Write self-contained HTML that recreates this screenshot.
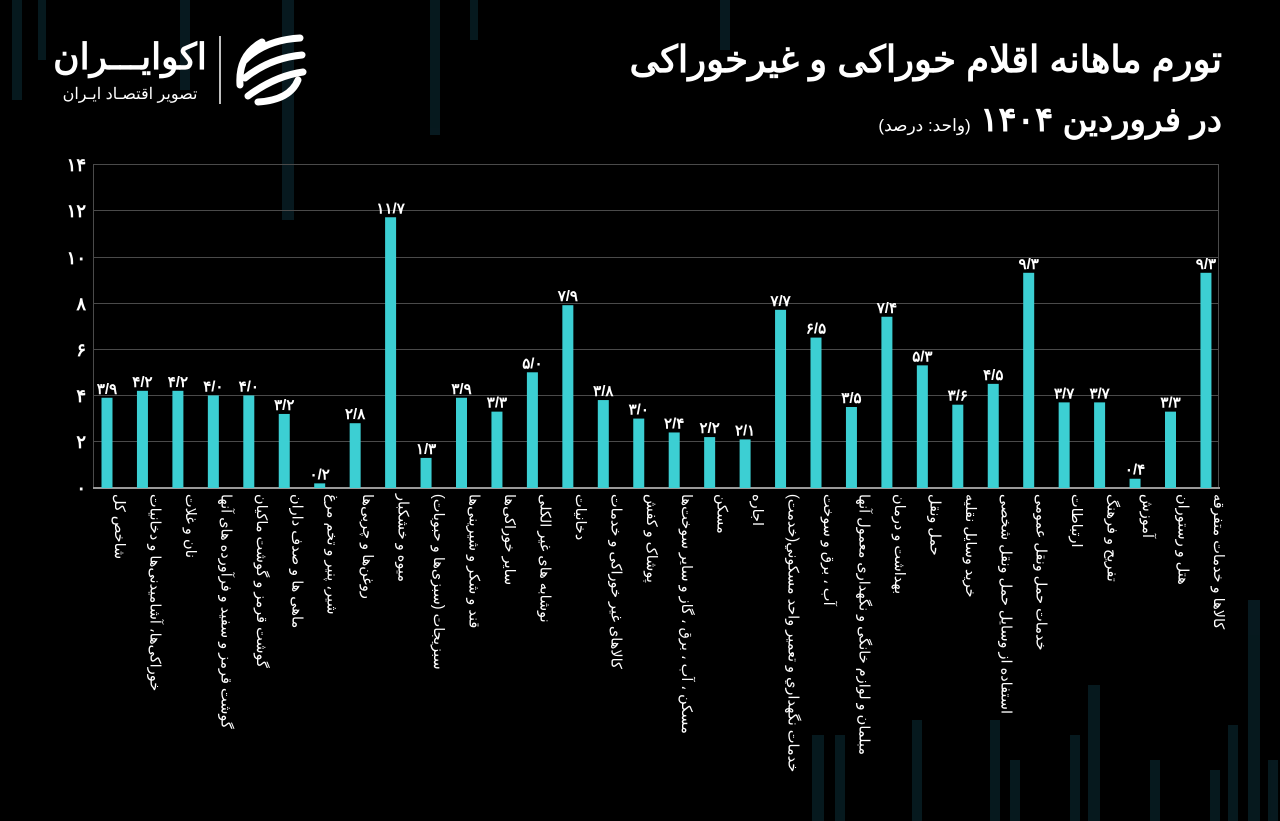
<!DOCTYPE html>
<html><head><meta charset="utf-8"><style>
body{margin:0;background:#000;}
#c{position:relative;width:1280px;height:821px;overflow:hidden;background:#000;font-family:"Liberation Sans","Noto Sans CJK SC",sans-serif;color:#fff;}
.lab{position:absolute;top:494px;writing-mode:vertical-rl;font-size:14.5px;line-height:17px;white-space:nowrap;color:#fff;}
.t{position:absolute;right:58px;direction:rtl;font-weight:bold;white-space:nowrap;}
</style></head><body><div id="c">
<svg width="1280" height="821" style="position:absolute;left:0;top:0">
<g fill="#0b2a33" opacity="0.6">
<rect x="12" y="0" width="10" height="100"/><rect x="38" y="0" width="8" height="60"/><rect x="180" y="0" width="10" height="90"/><rect x="282" y="0" width="12" height="220"/><rect x="430" y="0" width="10" height="135"/><rect x="470" y="0" width="8" height="40"/><rect x="720" y="0" width="10" height="50"/>
<rect x="812" y="735" width="12" height="86"/><rect x="835" y="735" width="10" height="86"/><rect x="912" y="720" width="10" height="101"/><rect x="990" y="720" width="10" height="101"/><rect x="1010" y="760" width="10" height="61"/><rect x="1070" y="735" width="10" height="86"/><rect x="1088" y="685" width="12" height="136"/><rect x="1150" y="760" width="10" height="61"/><rect x="1210" y="770" width="10" height="51"/><rect x="1228" y="725" width="10" height="96"/><rect x="1248" y="600" width="12" height="221"/><rect x="1268" y="760" width="10" height="61"/>
</g>
<g stroke="#4a4a4a" stroke-width="1">
<line x1="93" x2="1218" y1="164.5" y2="164.5"/><line x1="93" x2="1218" y1="210.5" y2="210.5"/><line x1="93" x2="1218" y1="257.5" y2="257.5"/><line x1="93" x2="1218" y1="303.5" y2="303.5"/><line x1="93" x2="1218" y1="349.5" y2="349.5"/><line x1="93" x2="1218" y1="395.5" y2="395.5"/><line x1="93" x2="1218" y1="441.5" y2="441.5"/>
<line x1="93.5" x2="93.5" y1="164" y2="488"/><line x1="1218.5" x2="1218.5" y1="164" y2="488"/>
</g>
<line x1="93" x2="1220" y1="488" y2="488" stroke="#9a9a9a" stroke-width="2"/>
<g id="bars" fill="#3ccfd3"></g>
<g id="vals" fill="#fff" font-size="15" font-weight="bold" text-anchor="middle" font-family="Liberation Sans, Noto Sans CJK SC, sans-serif"></g>
<g fill="#fff" font-size="18" font-weight="bold" text-anchor="end" font-family="Liberation Sans, Noto Sans CJK SC, sans-serif">
<text x="86" y="171">۱۴</text><text x="86" y="217">۱۲</text><text x="86" y="264">۱۰</text><text x="86" y="310">۸</text><text x="86" y="356">۶</text><text x="86" y="402">۴</text><text x="86" y="448">۲</text><text x="86" y="494">۰</text>
</g>
<g fill="none" stroke="#fff" stroke-width="7" stroke-linecap="round">
<path d="M245 60 Q265 40 300 38"/><path d="M245 78 Q270 58 302 55"/><path d="M248 96 Q275 76 303 72"/><path d="M240 85 Q238 55 262 42"/><path d="M258 102 Q290 100 298 80"/>
</g>
<line x1="220" y1="36" x2="220" y2="104" stroke="#fff" stroke-width="1.5"/>
</svg>
<div style="position:absolute;left:50px;top:36px;font-size:36px;font-weight:bold;direction:rtl;width:160px;text-align:center;">اکوایـــران</div>
<div style="position:absolute;left:50px;top:84px;font-size:16px;direction:rtl;width:160px;text-align:center;">تصویر اقتصـاد ایـران</div>
<div class="t" style="top:38px;font-size:37px;">تورم ماهانه اقلام خوراکی و غیرخوراکی</div>
<div class="t" style="top:100px;font-size:34px;">در فروردین ۱۴۰۴ <span style="font-size:17px;font-weight:normal">(واحد: درصد)</span></div>
<div id="labs"></div>
</div>
<script>
var v=[3.9,4.2,4.2,4.0,4.0,3.2,0.2,2.8,11.7,1.3,3.9,3.3,5.0,7.9,3.8,3.0,2.4,2.2,2.1,7.7,6.5,3.5,7.4,5.3,3.6,4.5,9.3,3.7,3.7,0.4,3.3,9.3];
var L=["شاخص کل","خوراکی‌ها، آشامیدنی‌ها و دخانیات","نان و غلات","گوشت قرمز و سفید و فرآورده های آنها","گوشت قرمز و گوشت ماکیان","ماهی ها و صدف داران","شیر، پنیر و تخم مرغ","روغن‌ها و چربی‌ها","میوه و خشکبار","سبزیجات (سبزی‌ها و حبوبات)","قند و شکر و شیرینی‌ها","سایر خوراکی‌ها","نوشابه های غیر الکلی","دخانیات","کالاهای غیر خوراکی و خدمات","پوشاک و کفش","مسکن ، آب ، برق ، گاز و سایر سوخت‌ها","مسکن","اجاره","خدمات نگهداري و تعمير واحد مسكوني(خدمت)","آب ، برق و سوخت","مبلمان و لوازم خانگی و نگهداری معمول آنها","بهداشت و درمان","حمل ونقل","خرید وسایل نقلیه","استفاده از وسایل حمل ونقل شخصی","خدمات حمل ونقل عمومی","ارتباطات","تفریح و فرهنگ","آموزش","هتل و رستوران","کالاها و خدمات متفرقه"];
var fa="۰۱۲۳۴۵۶۷۸۹";function f(n){return n.toFixed(1).replace(/\d/g,function(d){return fa[d]}).replace(".","/");}
var ns="http://www.w3.org/2000/svg",b=document.getElementById("bars"),t=document.getElementById("vals"),lb=document.getElementById("labs"),u=23.14;
v.forEach(function(x,i){var cx=107+i*35.45,h=x*u;
var r=document.createElementNS(ns,"rect");r.setAttribute("x",cx-5.5);r.setAttribute("y",488-h);r.setAttribute("width",11);r.setAttribute("height",h);b.appendChild(r);
var s=document.createElementNS(ns,"text");s.setAttribute("x",cx);s.setAttribute("y",484-h);s.textContent=f(x);t.appendChild(s);
var d=document.createElement("div");d.className="lab";d.style.left=(cx+3)+"px";d.textContent=L[i];lb.appendChild(d);});
</script>
</body></html>
